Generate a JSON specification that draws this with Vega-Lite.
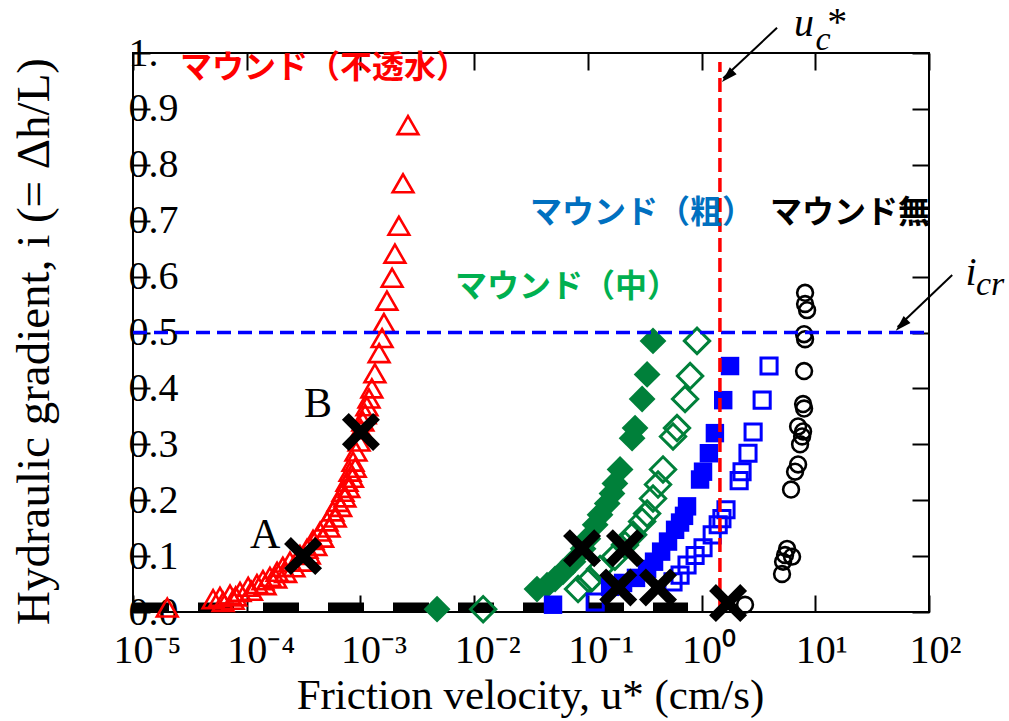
{
  "$schema": "https://vega.github.io/schema/vega-lite/v6.json",
  "width": 796,
  "height": 559,
  "autosize": {"type": "none"},
  "padding": {"left": 133, "top": 53, "right": 80, "bottom": 109},
  "background": "white",
  "config": {
    "font": "Liberation Serif",
    "view": {"stroke": "black", "strokeWidth": 2},
    "axis": {"domain": false, "grid": false, "tickColor": "black", "tickWidth": 2, "labelColor": "black", "titleColor": "black", "labelFont": "Liberation Serif", "titleFont": "Liberation Serif", "labelFontSize": 40, "titleFontWeight": "normal", "labelFlush": false, "labelOverlap": false, "labelBound": false}
  },
  "datasets": {
    "base": [{"u": 1e-5, "u2": 0.76, "i": 0.008}],
    "hline": [{"u": 1e-5, "u2": 100, "i": 0.5}],
    "vline": [{"u": 1.45, "i": 0, "i2": 0.984}],
    "tri": [
      {"u": 2.0e-5, "i": 0.008}, {"u": 5.06e-5, "i": 0.023}, {"u": 5.82e-5, "i": 0.027}, {"u": 7.13e-5, "i": 0.031}, {"u": 7.59e-5, "i": 0.022},
      {"u": 8.73e-5, "i": 0.036}, {"u": 1.03e-4, "i": 0.045}, {"u": 1.23e-4, "i": 0.05}, {"u": 1.39e-4, "i": 0.057}, {"u": 1.6e-4, "i": 0.063},
      {"u": 1.85e-4, "i": 0.072}, {"u": 2.08e-4, "i": 0.081}, {"u": 2.4e-4, "i": 0.09}, {"u": 2.94e-4, "i": 0.102}, {"u": 3.39e-4, "i": 0.113},
      {"u": 3.83e-4, "i": 0.129}, {"u": 4.42e-4, "i": 0.144}, {"u": 5.08e-4, "i": 0.162}, {"u": 5.74e-4, "i": 0.18}, {"u": 6.35e-4, "i": 0.197},
      {"u": 7.03e-4, "i": 0.215}, {"u": 7.62e-4, "i": 0.233}, {"u": 8.11e-4, "i": 0.251}, {"u": 8.61e-4, "i": 0.269}, {"u": 9.14e-4, "i": 0.287},
      {"u": 9.73e-4, "i": 0.305}, {"u": 1.01e-3, "i": 0.327}, {"u": 1.05e-3, "i": 0.341}, {"u": 1.1e-3, "i": 0.354}, {"u": 1.14e-3, "i": 0.368},
      {"u": 1.19e-3, "i": 0.382}, {"u": 1.26e-3, "i": 0.4}, {"u": 1.34e-3, "i": 0.427}, {"u": 1.46e-3, "i": 0.463}, {"u": 1.55e-3, "i": 0.49},
      {"u": 1.61e-3, "i": 0.517}, {"u": 1.71e-3, "i": 0.557}, {"u": 1.9e-3, "i": 0.598}, {"u": 2.01e-3, "i": 0.641}, {"u": 2.18e-3, "i": 0.691},
      {"u": 2.37e-3, "i": 0.767}, {"u": 2.62e-3, "i": 0.871},
      {"u": 6.2e-5, "i": 0.018}, {"u": 8.0e-5, "i": 0.028}, {"u": 1.1e-4, "i": 0.038}, {"u": 1.45e-4, "i": 0.048}, {"u": 1.8e-4, "i": 0.06},
      {"u": 2.2e-4, "i": 0.07}, {"u": 2.6e-4, "i": 0.08}, {"u": 3.05e-4, "i": 0.09}, {"u": 3.55e-4, "i": 0.103}, {"u": 4.05e-4, "i": 0.118},
      {"u": 4.65e-4, "i": 0.133}, {"u": 5.3e-4, "i": 0.151}, {"u": 6.0e-4, "i": 0.169}, {"u": 6.7e-4, "i": 0.188}, {"u": 7.3e-4, "i": 0.205},
      {"u": 7.9e-4, "i": 0.222}, {"u": 8.5e-4, "i": 0.24}, {"u": 9.0e-4, "i": 0.258}
    ],
    "gfill": [
      {"u": 0.374, "i": 0.485}, {"u": 0.332, "i": 0.425}, {"u": 0.3, "i": 0.381}, {"u": 0.26, "i": 0.329}, {"u": 0.245, "i": 0.311},
      {"u": 0.192, "i": 0.255}, {"u": 0.173, "i": 0.23}, {"u": 0.163, "i": 0.212}, {"u": 0.148, "i": 0.194}, {"u": 0.128, "i": 0.174},
      {"u": 0.116, "i": 0.156}, {"u": 0.1, "i": 0.131}, {"u": 0.0908, "i": 0.113}, {"u": 0.0741, "i": 0.09}, {"u": 0.0605, "i": 0.072},
      {"u": 0.0515, "i": 0.059}, {"u": 0.0438, "i": 0.048}, {"u": 0.0357, "i": 0.041}, {"u": 0.00472, "i": 0.005}
    ],
    "gopen": [
      {"u": 0.912, "i": 0.485}, {"u": 0.793, "i": 0.422}, {"u": 0.716, "i": 0.381}, {"u": 0.608, "i": 0.329}, {"u": 0.561, "i": 0.314},
      {"u": 0.458, "i": 0.255}, {"u": 0.414, "i": 0.228}, {"u": 0.374, "i": 0.203}, {"u": 0.332, "i": 0.176}, {"u": 0.3, "i": 0.162},
      {"u": 0.25, "i": 0.138}, {"u": 0.212, "i": 0.12}, {"u": 0.173, "i": 0.099}, {"u": 0.128, "i": 0.077}, {"u": 0.104, "i": 0.057},
      {"u": 0.082, "i": 0.041}, {"u": 0.012, "i": 0.005}
    ],
    "bfill": [
      {"u": 1.78, "i": 0.44}, {"u": 1.55, "i": 0.379}, {"u": 1.31, "i": 0.32}, {"u": 1.16, "i": 0.284}, {"u": 1.03, "i": 0.251},
      {"u": 0.97, "i": 0.237}, {"u": 0.745, "i": 0.189}, {"u": 0.701, "i": 0.172}, {"u": 0.647, "i": 0.16}, {"u": 0.585, "i": 0.147},
      {"u": 0.507, "i": 0.126}, {"u": 0.441, "i": 0.108}, {"u": 0.382, "i": 0.09}, {"u": 0.332, "i": 0.077}, {"u": 0.265, "i": 0.061},
      {"u": 0.204, "i": 0.052}, {"u": 0.157, "i": 0.045}, {"u": 0.0494, "i": 0.013}
    ],
    "bopen": [
      {"u": 3.92, "i": 0.44}, {"u": 3.41, "i": 0.379}, {"u": 2.84, "i": 0.322}, {"u": 2.56, "i": 0.284}, {"u": 2.27, "i": 0.251},
      {"u": 2.14, "i": 0.235}, {"u": 1.64, "i": 0.183}, {"u": 1.51, "i": 0.167}, {"u": 1.4, "i": 0.156}, {"u": 1.24, "i": 0.138},
      {"u": 1.03, "i": 0.115}, {"u": 0.877, "i": 0.101}, {"u": 0.745, "i": 0.084}, {"u": 0.647, "i": 0.066}, {"u": 0.561, "i": 0.054},
      {"u": 0.116, "i": 0.018}
    ],
    "circ": [
      {"u": 8.13, "i": 0.571}, {"u": 8.13, "i": 0.551}, {"u": 8.47, "i": 0.54}, {"u": 7.97, "i": 0.497}, {"u": 8.13, "i": 0.488},
      {"u": 7.97, "i": 0.431}, {"u": 7.81, "i": 0.372}, {"u": 7.97, "i": 0.364}, {"u": 7.06, "i": 0.332}, {"u": 7.81, "i": 0.323},
      {"u": 7.66, "i": 0.314}, {"u": 7.35, "i": 0.3}, {"u": 7.06, "i": 0.264}, {"u": 6.64, "i": 0.251}, {"u": 6.12, "i": 0.219},
      {"u": 5.65, "i": 0.113}, {"u": 5.42, "i": 0.102}, {"u": 6.25, "i": 0.099}, {"u": 5.21, "i": 0.09}, {"u": 5.1, "i": 0.068},
      {"u": 2.41, "i": 0.013}
    ],
    "cross": [
      {"u": 3.13e-4, "i": 0.1}, {"u": 1.01e-3, "i": 0.322}, {"u": 0.0889, "i": 0.114}, {"u": 0.212, "i": 0.114},
      {"u": 0.185, "i": 0.044}, {"u": 0.414, "i": 0.044}, {"u": 1.71, "i": 0.016}
    ],
    "jp": [
      {"u": 2.59e-5, "i": 0.973, "t": "マウンド（不透水）", "s": "imperm"},
      {"u": 0.031, "i": 0.714, "t": "マウンド（粗）", "s": "coarse"},
      {"u": 4.0, "i": 0.714, "t": "マウンド無", "s": "none"},
      {"u": 0.00679, "i": 0.581, "t": "マウンド（中）", "s": "medium"}
    ],
    "ab": [
      {"u": 1.45e-4, "i": 0.1145, "t": "A"},
      {"u": 4.24e-4, "i": 0.349, "t": "B"}
    ],
    "sym": [
      {"u": 7.97, "i": 1.03, "t": "u"},
      {"u": 234, "i": 0.585, "t": "i"}
    ],
    "sub": [
      {"u": 11.7, "i": 1.006, "t": "c"},
      {"u": 345, "i": 0.567, "t": "cr"}
    ],
    "star": [{"u": 15.6, "i": 1.032, "t": "*"}],
    "arrows": [
      {"u": 4.61, "i": 1.045, "u2": 1.55, "i2": 0.955},
      {"u": 160, "i": 0.603, "u2": 53, "i2": 0.51}
    ],
    "heads": [
      {"u": 1.51, "i": 0.948},
      {"u": 51, "i": 0.503}
    ]
  },
  "layer": [
    {
      "data": {"name": "base"},
      "mark": {"type": "rule", "color": "black", "strokeWidth": 10, "strokeDash": [36, 29]},
      "encoding": {
        "x": {"field": "u", "type": "quantitative",
          "scale": {"type": "log", "domain": [1e-5, 100], "nice": false},
          "axis": {"orient": "bottom", "values": [1e-5, 1e-4, 1e-3, 1e-2, 1e-1, 1, 10, 100],
            "labelExpr": "'10' + ['⁻⁵','⁻⁴','⁻³','⁻²','⁻¹','⁰','¹','²'][round(log(datum.value)/LN10)+5]",
            "labelAlign": "left", "labelOffset": -20, "labelBaseline": "alphabetic", "labelPadding": 67, "tickSize": -17,
            "title": "Friction velocity, u* (cm/s)", "titleFontSize": 43, "titleX": 397, "titleY": 96, "titleAlign": "center", "titleBaseline": "alphabetic"}},
        "x2": {"field": "u2"},
        "y": {"field": "i", "type": "quantitative",
          "scale": {"domain": [0, 1], "nice": false, "zero": false},
          "axis": {"orient": "left", "values": [0, 0.1, 0.2, 0.3, 0.4, 0.5, 0.6, 0.7, 0.8, 0.9, 1],
            "labelExpr": "datum.value == 1 ? '1.' : format(datum.value, '.1f')",
            "labelAlign": "left", "labelBaseline": "middle", "labelPadding": 22, "tickSize": -17,
            "title": "Hydraulic gradient, i (= Δh/L)", "titleFontSize": 47, "titleAngle": 270, "titleX": -85, "titleY": 288, "titleAlign": "center", "titleBaseline": "alphabetic"}}
      }
    },
    {
      "data": {"name": "tri"},
      "mark": {"type": "point", "shape": "triangle-up", "size": 430, "filled": false, "color": "#FF0000", "strokeWidth": 2.6, "opacity": 1},
      "encoding": {"x": {"field": "u", "type": "quantitative", "axis": null}, "y": {"field": "i", "type": "quantitative", "axis": null}}
    },
    {
      "data": {"name": "gfill"},
      "mark": {"type": "point", "shape": "diamond", "size": 720, "filled": true, "color": "#00803A", "opacity": 1},
      "encoding": {"x": {"field": "u", "type": "quantitative", "axis": null}, "y": {"field": "i", "type": "quantitative", "axis": null}}
    },
    {
      "data": {"name": "gopen"},
      "mark": {"type": "point", "shape": "diamond", "size": 640, "filled": false, "color": "#00803A", "strokeWidth": 3, "opacity": 1},
      "encoding": {"x": {"field": "u", "type": "quantitative", "axis": null}, "y": {"field": "i", "type": "quantitative", "axis": null}}
    },
    {
      "data": {"name": "bfill"},
      "mark": {"type": "point", "shape": "square", "size": 340, "filled": true, "color": "#0000FF", "opacity": 1},
      "encoding": {"x": {"field": "u", "type": "quantitative", "axis": null}, "y": {"field": "i", "type": "quantitative", "axis": null}}
    },
    {
      "data": {"name": "bopen"},
      "mark": {"type": "point", "shape": "square", "size": 260, "filled": false, "color": "#0000FF", "strokeWidth": 3, "opacity": 1},
      "encoding": {"x": {"field": "u", "type": "quantitative", "axis": null}, "y": {"field": "i", "type": "quantitative", "axis": null}}
    },
    {
      "data": {"name": "circ"},
      "mark": {"type": "point", "shape": "circle", "size": 250, "filled": false, "color": "black", "strokeWidth": 2.6, "opacity": 1},
      "encoding": {"x": {"field": "u", "type": "quantitative", "axis": null}, "y": {"field": "i", "type": "quantitative", "axis": null}}
    },
    {
      "data": {"name": "hline"},
      "mark": {"type": "rule", "color": "#0000FF", "strokeWidth": 3.5, "strokeDash": [14, 7]},
      "encoding": {"x": {"field": "u", "type": "quantitative", "axis": null}, "x2": {"field": "u2"}, "y": {"field": "i", "type": "quantitative", "axis": null}}
    },
    {
      "data": {"name": "vline"},
      "mark": {"type": "rule", "color": "#FF0000", "strokeWidth": 3.5, "strokeDash": [14, 6]},
      "encoding": {"x": {"field": "u", "type": "quantitative", "axis": null}, "y": {"field": "i", "type": "quantitative", "axis": null}, "y2": {"field": "i2"}}
    },
    {
      "data": {"name": "jp"},
      "mark": {"type": "text", "font": "Noto Sans CJK JP", "fontWeight": "bold", "fontSize": 32, "align": "left", "baseline": "middle"},
      "encoding": {
        "x": {"field": "u", "type": "quantitative", "axis": null},
        "y": {"field": "i", "type": "quantitative", "axis": null},
        "text": {"field": "t"},
        "color": {"field": "s", "type": "nominal", "legend": null,
          "scale": {"domain": ["imperm", "coarse", "medium", "none"], "range": ["#FF0000", "#0070C0", "#00B050", "#000000"]}}
      }
    },
    {
      "data": {"name": "ab"},
      "mark": {"type": "text", "font": "Liberation Serif", "fontSize": 42, "align": "center", "baseline": "alphabetic", "color": "black"},
      "encoding": {"x": {"field": "u", "type": "quantitative", "axis": null}, "y": {"field": "i", "type": "quantitative", "axis": null}, "text": {"field": "t"}}
    },
    {
      "data": {"name": "sym"},
      "mark": {"type": "text", "font": "Liberation Serif", "fontStyle": "italic", "fontSize": 40, "align": "center", "baseline": "alphabetic", "color": "black"},
      "encoding": {"x": {"field": "u", "type": "quantitative", "axis": null}, "y": {"field": "i", "type": "quantitative", "axis": null}, "text": {"field": "t"}}
    },
    {
      "data": {"name": "sub"},
      "mark": {"type": "text", "font": "Liberation Serif", "fontStyle": "italic", "fontSize": 34, "align": "center", "baseline": "alphabetic", "color": "black"},
      "encoding": {"x": {"field": "u", "type": "quantitative", "axis": null}, "y": {"field": "i", "type": "quantitative", "axis": null}, "text": {"field": "t"}}
    },
    {
      "data": {"name": "star"},
      "mark": {"type": "text", "font": "Liberation Serif", "fontSize": 40, "align": "center", "baseline": "alphabetic", "color": "black"},
      "encoding": {"x": {"field": "u", "type": "quantitative", "axis": null}, "y": {"field": "i", "type": "quantitative", "axis": null}, "text": {"field": "t"}}
    },
    {
      "data": {"name": "arrows"},
      "mark": {"type": "rule", "color": "black", "strokeWidth": 2},
      "encoding": {"x": {"field": "u", "type": "quantitative", "axis": null}, "y": {"field": "i", "type": "quantitative", "axis": null}, "x2": {"field": "u2"}, "y2": {"field": "i2"}}
    },
    {
      "data": {"name": "heads"},
      "mark": {"type": "point", "shape": "M0,0L-0.3,1L0.3,1Z", "size": 1024, "filled": true, "color": "black", "angle": 225, "opacity": 1},
      "encoding": {"x": {"field": "u", "type": "quantitative", "axis": null}, "y": {"field": "i", "type": "quantitative", "axis": null}}
    },
    {
      "data": {"name": "cross"},
      "mark": {"type": "point", "shape": "M-1,-0.64L-0.64,-1L0,-0.36L0.64,-1L1,-0.64L0.36,0L1,0.64L0.64,1L0,0.36L-0.64,1L-1,0.64L-0.36,0Z", "size": 1444, "filled": true, "color": "black", "opacity": 1},
      "encoding": {
        "x": {"field": "u", "type": "quantitative",
          "axis": {"orient": "top", "values": [1e-5, 1e-4, 1e-3, 1e-2, 1e-1, 1, 10, 100], "labels": false, "tickSize": -17, "title": null}},
        "y": {"field": "i", "type": "quantitative",
          "axis": {"orient": "right", "values": [0, 0.1, 0.2, 0.3, 0.4, 0.5, 0.6, 0.7, 0.8, 0.9, 1], "labels": false, "tickSize": -17, "title": null}}
      }
    }
  ]
}
